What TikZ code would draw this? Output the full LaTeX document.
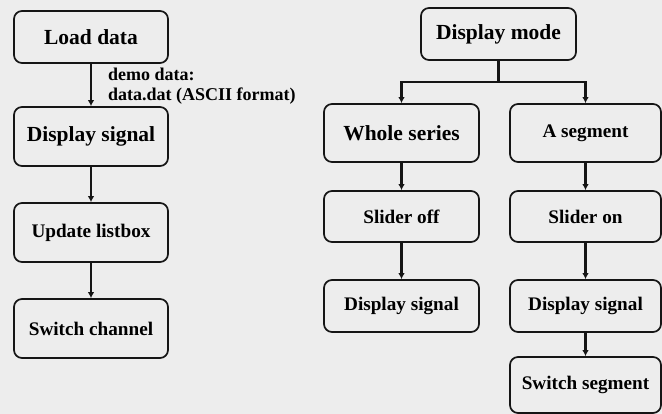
\documentclass[tikz,border=0pt]{standalone}
\usepackage{fontspec}
\setmainfont{Liberation Serif}
\usetikzlibrary{arrows.meta}
\definecolor{bg}{HTML}{EDEDED}
\definecolor{ink}{HTML}{151515}
\tikzset{
  box/.style={draw=ink, line width=1.7pt, rounded corners=8pt, inner sep=0pt, align=center, font=\bfseries},
  big/.style={font=\fontsize{21.5}{24}\selectfont\bfseries},
  small/.style={font=\fontsize{19.2}{22}\selectfont\bfseries},
  arr/.style={draw=ink, line width=2.2pt, -{Latex[length=6pt,width=6.5pt]}},
  lbl/.style={font=\fontsize{18}{20}\selectfont\bfseries, align=left, inner sep=0pt}
}
\begin{document}
\begin{tikzpicture}[x=1pt,y=-1pt]
\fill[bg] (0,0) rectangle (662,414);
\useasboundingbox (0,0) rectangle (662,414);
% left column
\node[box,big,minimum width=154pt,minimum height=52pt] (load) at (91,37) {Load data};
\node[box,big,minimum width=154pt,minimum height=59pt] (disp1) at (91,136.5) {Display signal};
\node[box,small,minimum width=154pt,minimum height=59pt] (upd) at (91,232.5) {Update listbox};
\node[box,small,minimum width=154pt,minimum height=59pt] (swch) at (91,328.5) {Switch channel};
\draw[arr] (load) -- (disp1);
\draw[arr] (disp1) -- (upd);
\draw[arr] (upd) -- (swch);
\node[lbl,anchor=west] (demo) at (108,86) {demo data:\\data.dat (ASCII format)};
% right column
\node[box,big,minimum width=155pt,minimum height=52pt] (mode) at (498.5,34) {Display mode};
\node[box,big,minimum width=155pt,minimum height=58pt] (whole) at (401.5,133) {Whole series};
\node[box,small,minimum width=151pt,minimum height=58pt] (seg) at (585.5,133) {A segment};
\node[box,small,minimum width=155pt,minimum height=51pt] (soff) at (401.5,216.5) {Slider off};
\node[box,small,minimum width=151pt,minimum height=51pt] (son) at (585.5,216.5) {Slider on};
\node[box,small,minimum width=155pt,minimum height=52pt] (d2) at (401.5,306) {Display signal};
\node[box,small,minimum width=151pt,minimum height=52pt] (d3) at (585.5,306) {Display signal};
\node[box,small,minimum width=151pt,minimum height=56pt] (swseg) at (585.5,385) {Switch segment};
\coordinate (br) at (498.5,82);
\draw[draw=ink,line width=2.2pt] (mode.south) -- (br);
\draw[arr] (br) -| (whole.north);
\draw[arr] (br) -| (seg.north);
\draw[arr] (whole) -- (soff);
\draw[arr] (soff) -- (d2);
\draw[arr] (seg) -- (son);
\draw[arr] (son) -- (d3);
\draw[arr] (d3) -- (swseg);
\end{tikzpicture}
\end{document}
